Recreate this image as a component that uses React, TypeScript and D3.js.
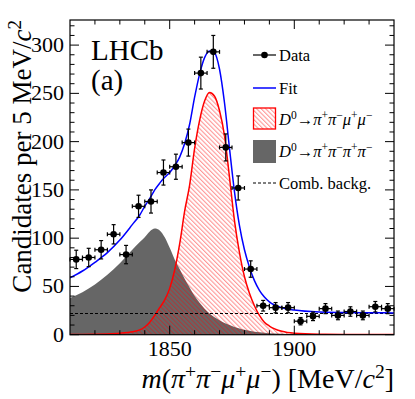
import React from 'react';
import * as d3 from 'd3';

// data: 5 MeV bins
const binCenters = [1812.5, 1817.5, 1822.5, 1827.5, 1832.5, 1837.5, 1842.5, 1847.5, 1852.5, 1857.5, 1862.5, 1867.5, 1872.5,
  1877.5, 1882.5, 1887.5, 1892.5, 1897.5, 1902.5, 1907.5, 1912.5, 1917.5, 1922.5, 1927.5, 1932.5, 1937.5];
const counts = [78, 80, 88, 104, 83, 133, 138, 168, 174, 199, 271, 293, 194, 152, 68, 30, 28, 28, 14, 19, 27, 20, 24, 20, 29, 27];
const countErrors = [9.5, 9.5, 9.5, 10, 9.5, 11.5, 12, 13, 13, 14, 16.5, 17, 14, 12.5, 8.5, 5.5, 5.3, 5.3, 3.8, 4.4, 5.2, 4.5, 4.9, 4.5, 5.4, 5.2];
const binHalfWidth = 2.5;

const curveMass = [1810, 1815, 1820, 1825, 1830, 1835, 1838, 1840, 1842, 1844, 1846, 1848, 1850, 1852, 1854, 1856, 1858,
  1860, 1862, 1864, 1866, 1868, 1870, 1872, 1874, 1876, 1878, 1880, 1882, 1884, 1886, 1888, 1890, 1895, 1900, 1910,
  1920, 1930, 1940];
const fitTotal = [59, 66, 75, 85, 98, 114, 124, 133, 141, 150, 157, 163, 168, 175, 184, 198, 218,
  246, 270, 287, 294, 292, 275, 240, 193, 148, 113, 88, 70, 56, 46, 39, 34, 28, 25.5, 23.5,
  23, 22.7, 22.6];
const signal = [0.2, 0.3, 0.5, 0.8, 1.5, 3, 5, 8, 13, 20, 28, 36, 48, 67, 94, 128, 155,
  193, 222, 242, 251, 247, 232, 206, 163, 118, 85, 60, 43, 30, 20, 13, 9, 3.5, 1.5, 0.5,
  0.3, 0.2, 0.1];
const peakingBkg = [38, 44, 52, 62, 74, 88, 96, 101, 107, 110, 108, 101, 90, 78, 68, 58, 49,
  40, 33, 27, 22, 18, 15, 12, 10, 8, 6.5, 5, 4, 3, 2.5, 2, 1.5, 1, 0.5, 0.2,
  0.1, 0.05, 0];
const combLevel = [22, 22];
const combMass = [1810, 1940];

const xTickLabels = [1850, 1900];
const yTickLabels = [0, 50, 100, 150, 200, 250, 300];

const FONT = "'Liberation Serif', 'Times New Roman', serif";

type Seg = { t: string; sup?: boolean; it?: boolean };

function Formula({ segs, size }: { segs: Seg[]; size: number }) {
  let shifted = false;
  return (
    <>
      {segs.map((s, i) => {
        let dy = 0;
        if (s.sup && !shifted) { dy = -0.37 * size; shifted = true; }
        else if (!s.sup && shifted) { dy = 0.37 * size; shifted = false; }
        return (
          <tspan key={i} dy={dy || undefined} fontStyle={s.it ? 'italic' : undefined}
            fontSize={s.sup ? size * 0.7 : undefined}>{s.t}</tspan>
        );
      })}
    </>
  );
}

const mumuDecay: Seg[] = [{ t: 'D', it: true }, { t: '0', sup: true }, { t: '\u2192' }, { t: '\u03c0', it: true }, { t: '+', sup: true },
  { t: '\u03c0', it: true }, { t: '\u2212', sup: true }, { t: '\u03bc', it: true }, { t: '+', sup: true }, { t: '\u03bc', it: true }, { t: '\u2212', sup: true }];
const pipiDecay: Seg[] = [{ t: 'D', it: true }, { t: '0', sup: true }, { t: '\u2192' }, { t: '\u03c0', it: true }, { t: '+', sup: true },
  { t: '\u03c0', it: true }, { t: '\u2212', sup: true }, { t: '\u03c0', it: true }, { t: '+', sup: true }, { t: '\u03c0', it: true }, { t: '\u2212', sup: true }];

export default function App() {
  const width = 415;
  const height = 399;
  const x0 = 70, x1 = 394, yTop = 20, yBot = 334.7;

  const x = d3.scaleLinear().domain([1810, 1940]).range([x0, x1]);
  const y = d3.scaleLinear().domain([0, 326]).range([yBot, yTop]);

  const pts = (vals: number[]) => curveMass.map((m, i) => [m, vals[i]] as [number, number]);
  const line = d3.line<[number, number]>().x((d) => x(d[0])).y((d) => y(d[1])).curve(d3.curveMonotoneX);
  const area = d3.area<[number, number]>().x((d) => x(d[0])).y0(y(0)).y1((d) => y(d[1])).curve(d3.curveMonotoneX);

  const xMinor = d3.range(1820, 1940, 10);
  const yMinor = d3.range(0, 326, 10);

  const legX = 253, legW = 23;

  return (
    <svg width={width} height={height} style={{ position: 'absolute', left: 0, top: 0, background: '#fff' }}
      fontFamily={FONT}>
      <defs>
        <clipPath id="frame">
          <rect x={x0} y={yTop} width={x1 - x0} height={yBot - yTop} />
        </clipPath>
        <pattern id="hatch" patternUnits="userSpaceOnUse" width={8} height={3.2} patternTransform="rotate(45)">
          <line x1={0} x2={8} y1={1} y2={1} stroke="#ff0000" strokeOpacity={0.5} strokeWidth={0.9} />
        </pattern>
      </defs>

      <g clipPath="url(#frame)">
        <path d={area(pts(peakingBkg)) || ''} fill="#666666" />
        <path d={area(pts(signal)) || ''} fill="url(#hatch)" />
        <path d={line(pts(signal)) || ''} fill="none" stroke="#ff0000" strokeWidth={1.5} />
        <line x1={x(combMass[0])} x2={x(combMass[1])} y1={y(combLevel[0])} y2={y(combLevel[1])}
          stroke="#000" strokeWidth={1.1} strokeDasharray="3,2" />
        <path d={line(pts(fitTotal)) || ''} fill="none" stroke="#0000ff" strokeWidth={1.5} />
      </g>

      {/* data points */}
      <g stroke="#000" strokeWidth={1.2}>
        {binCenters.map((m, i) => {
          const cx = x(m), cy = y(counts[i]);
          const ya = y(counts[i] + countErrors[i]), yb = y(counts[i] - countErrors[i]);
          const xa = x(m - binHalfWidth), xb = x(m + binHalfWidth);
          return (
            <g key={i}>
              <line x1={cx} x2={cx} y1={ya} y2={yb} />
              <line x1={xa} x2={xb} y1={cy} y2={cy} />
              <line x1={cx - 2} x2={cx + 2} y1={ya} y2={ya} />
              <line x1={cx - 2} x2={cx + 2} y1={yb} y2={yb} />
              <line x1={xa} x2={xa} y1={cy - 2} y2={cy + 2} />
              <line x1={xb} x2={xb} y1={cy - 2} y2={cy + 2} />
              <circle cx={cx} cy={cy} r={3.3} fill="#000" stroke="none" />
            </g>
          );
        })}
      </g>

      {/* frame and ticks */}
      <rect x={x0} y={yTop} width={x1 - x0} height={yBot - yTop} fill="none" stroke="#000" strokeWidth={1.2} />
      <g stroke="#000" strokeWidth={1}>
        {xMinor.map((v) => {
          const len = xTickLabels.includes(v) ? 9 : 4.5;
          return (
            <g key={v}>
              <line x1={x(v)} x2={x(v)} y1={yBot} y2={yBot - len} />
              <line x1={x(v)} x2={x(v)} y1={yTop} y2={yTop + len} />
            </g>
          );
        })}
        {yMinor.map((v) => {
          const len = yTickLabels.includes(v) ? 9 : 4.5;
          return (
            <g key={v}>
              <line x1={x0} x2={x0 + len} y1={y(v)} y2={y(v)} />
              <line x1={x1} x2={x1 - len} y1={y(v)} y2={y(v)} />
            </g>
          );
        })}
      </g>

      {xTickLabels.map((v) => (
        <text key={v} x={x(v)} y={356} fontSize={22} textAnchor="middle">{v}</text>
      ))}
      {yTickLabels.map((v) => (
        <text key={v} x={64} y={y(v) + 7} fontSize={22} textAnchor="end">{v}</text>
      ))}

      <text x={x1} y={388} fontSize={28} textAnchor="end">
        <tspan fontStyle="italic">m</tspan>(<Formula size={28} segs={[{ t: '\u03c0', it: true }, { t: '+', sup: true }, { t: '\u03c0', it: true }, { t: '\u2212', sup: true },
          { t: '\u03bc', it: true }, { t: '+', sup: true }, { t: '\u03bc', it: true }, { t: '\u2212', sup: true }, { t: ') [MeV/' }, { t: 'c', it: true }, { t: '2', sup: true }, { t: ']' }]} />
      </text>
      <text transform={`translate(31,${yTop}) rotate(-90)`} fontSize={27} textAnchor="end">
        <Formula size={27} segs={[{ t: 'Candidates per 5 MeV/' }, { t: 'c', it: true }, { t: '2', sup: true }]} />
      </text>

      <text x={91} y={60} fontSize={29}>LHCb</text>
      <text x={91} y={90} fontSize={29}>(a)</text>

      {/* legend */}
      <g fontSize={16.5}>
        <line x1={legX} x2={legX + legW} y1={55} y2={55} stroke="#000" strokeWidth={1.2} />
        <circle cx={legX + legW / 2} cy={55} r={3.3} fill="#000" />
        <text x={279} y={61}>Data</text>

        <line x1={legX} x2={legX + legW} y1={88} y2={88} stroke="#0000ff" strokeWidth={1.5} />
        <text x={279} y={94}>Fit</text>

        <rect x={legX + 0.5} y={108} width={legW - 1} height={21} fill="url(#hatch)" stroke="#ff0000" strokeWidth={1.3} />
        <text x={279} y={125}><Formula size={16.5} segs={mumuDecay} /></text>

        <rect x={legX} y={140} width={legW} height={23} fill="#666666" />
        <text x={279} y={157}><Formula size={16.5} segs={pipiDecay} /></text>

        <line x1={legX} x2={legX + legW} y1={183} y2={183} stroke="#000" strokeWidth={1.1} strokeDasharray="3,2" />
        <text x={279} y={189}>Comb. backg.</text>
      </g>
    </svg>
  );
}
